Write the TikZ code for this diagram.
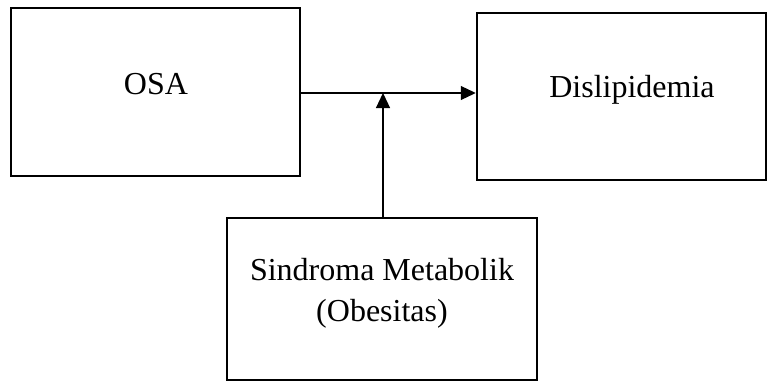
\documentclass[tikz,border=0pt]{standalone}
\usepackage{fontspec}
\setmainfont{Liberation Serif}
\usetikzlibrary{arrows.meta}
\begin{document}
\begin{tikzpicture}[x=1pt,y=-1pt,
  box/.style={draw=black,line width=2.5pt,rectangle,inner sep=0pt},
  lbl/.style={font=\fontsize{32}{41}\selectfont,align=center,inner sep=0pt},
  conn/.style={line width=1.2pt,-{Triangle[length=15pt,width=14pt]}}]
\useasboundingbox (0,0) rectangle (775,385);
\node[box,minimum width=289pt,minimum height=168pt] (osa) at (155.5,92) {};
\node[box,minimum width=289pt,minimum height=167pt] (dis) at (621.5,96.5) {};
\node[box,minimum width=310pt,minimum height=162pt] (sin) at (382,299) {};
\node[lbl] (tosa) at (156,84) {OSA};
\node[lbl] (tdis) at (632,90) {Dislipidemia};
\node[lbl] (tsin) at (382,293) {Sindroma Metabolik\\(Obesitas)};
\coordinate (j) at (383,93);
\draw[conn] (osa.east |- j) -- (dis.west |- j);
\draw[conn] (sin.north -| j) -- (j);
\end{tikzpicture}
\end{document}
